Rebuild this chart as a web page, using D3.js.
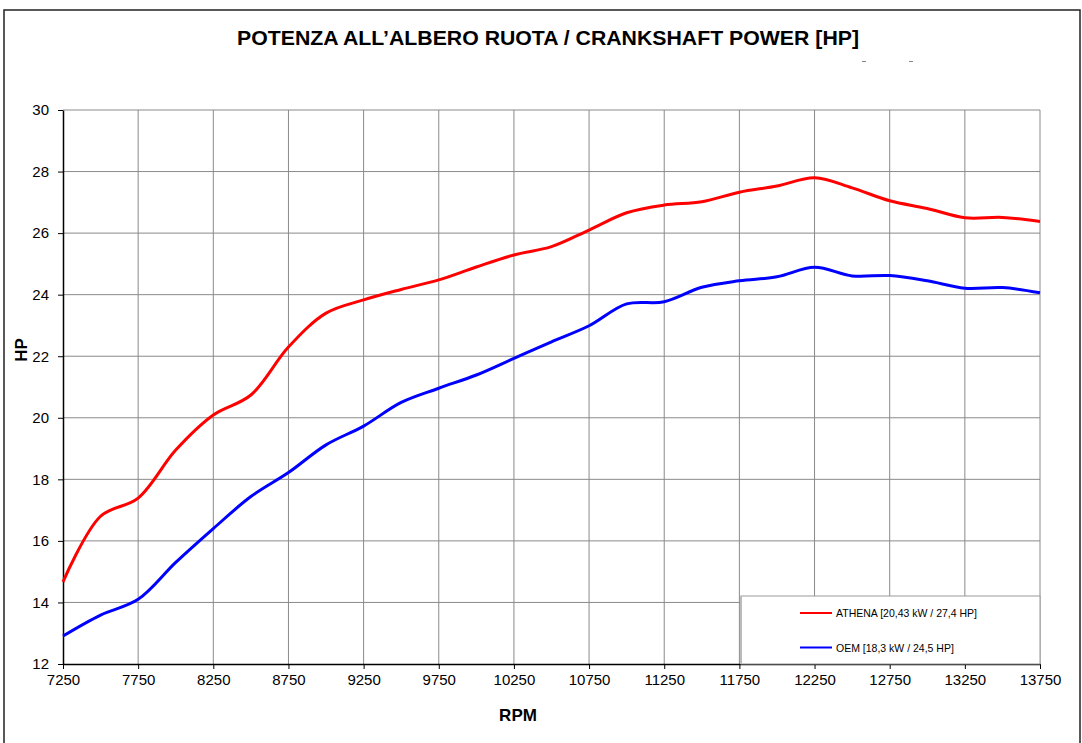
<!DOCTYPE html>
<html>
<head>
<meta charset="utf-8">
<script src="https://cdn.jsdelivr.net/npm/d3@7"></script>
<style>
  body { margin: 0; background: #fff; }
  text { font-family: "Liberation Sans", Arial, sans-serif; }
</style>
</head>
<body>
<div id="chart"></div>
<script>
// data (every 250 rpm)
var rpm = [7250, 7500, 7750, 8000, 8250, 8500, 8750, 9000, 9250, 9500, 9750, 10000, 10250, 10500,
           10750, 11000, 11250, 11500, 11750, 12000, 12250, 12500, 12750, 13000, 13250, 13500, 13750];
var athena = [14.67, 16.8, 17.39, 18.95, 20.09, 20.74, 22.3, 23.4, 23.83, 24.17, 24.48, 24.9, 25.29, 25.56,
              26.1, 26.66, 26.91, 27.02, 27.33, 27.53, 27.8, 27.47, 27.05, 26.8, 26.5, 26.51, 26.38];
var oem = [12.91, 13.59, 14.1, 15.3, 16.4, 17.44, 18.22, 19.12, 19.73, 20.5, 20.96, 21.39, 21.93, 22.47,
           22.99, 23.7, 23.77, 24.24, 24.45, 24.58, 24.89, 24.61, 24.62, 24.45, 24.21, 24.23, 24.06];
var xTicks = [7250, 7750, 8250, 8750, 9250, 9750, 10250, 10750, 11250, 11750, 12250, 12750, 13250, 13750];
var yTicks = [12, 14, 16, 18, 20, 22, 24, 26, 28, 30];
var seriesNames = ["ATHENA [20,43 kW / 27,4 HP]", "OEM [18,3 kW / 24,5 HP]"];
var seriesColors = ["#ff0000", "#0000ff"];

var width = 1082, height = 743;
var margin = { left: 63, right: 42, top: 110, bottom: 79 };

var svg = d3.select("#chart").append("svg")
    .attr("width", width)
    .attr("height", height);

// outer frame
svg.append("rect")
    .attr("x", 4).attr("y", 10)
    .attr("width", 1076).attr("height", 760)
    .attr("fill", "none")
    .attr("stroke", "#222")
    .attr("stroke-width", 1.5);

var x = d3.scaleLinear()
    .domain([7250, 13750])
    .range([margin.left, width - margin.right]);

var y = d3.scaleLinear()
    .domain([12, 30])
    .range([height - margin.bottom, margin.top]);

// grid
svg.append("g").selectAll("line.vg")
    .data(xTicks.slice(1))
    .enter().append("line")
    .attr("x1", function (d) { return x(d); })
    .attr("x2", function (d) { return x(d); })
    .attr("y1", y(12)).attr("y2", y(30))
    .attr("stroke", "#8a8a8a").attr("stroke-width", 1);

svg.append("g").selectAll("line.hg")
    .data(yTicks.slice(1))
    .enter().append("line")
    .attr("x1", x(7250)).attr("x2", x(13750))
    .attr("y1", function (d) { return y(d); })
    .attr("y2", function (d) { return y(d); })
    .attr("stroke", "#8a8a8a").attr("stroke-width", 1);

// axes
var xAxis = d3.axisBottom(x).tickValues(xTicks).tickSize(5).tickSizeOuter(0).tickFormat(d3.format("d"));
var yAxis = d3.axisLeft(y).tickValues(yTicks).tickSize(5).tickSizeOuter(0);

var gx = svg.append("g")
    .attr("transform", "translate(0," + y(12) + ")")
    .call(xAxis);
var gy = svg.append("g")
    .attr("transform", "translate(" + x(7250) + ",0)")
    .call(yAxis);

[gx, gy].forEach(function (g) {
    g.select(".domain").attr("stroke", "#000").attr("stroke-width", 1.5);
    g.selectAll(".tick line").attr("stroke", "#000");
    g.selectAll(".tick text")
        .attr("fill", "#000")
        .style("font-size", "15px")
        .style("font-family", "'Liberation Sans', Arial, sans-serif");
});
gx.selectAll(".tick text").attr("dy", "1em").attr("y", 6);
gy.selectAll(".tick text").attr("x", -14);

// lines
var line = d3.line()
    .x(function (d) { return x(d[0]); })
    .y(function (d) { return y(d[1]); })
    .curve(d3.curveCatmullRom.alpha(0.5));

[athena, oem].forEach(function (vals, i) {
    svg.append("path")
        .datum(rpm.map(function (r, j) { return [r, vals[j]]; }))
        .attr("d", line)
        .attr("fill", "none")
        .attr("stroke", seriesColors[i])
        .attr("stroke-width", 3)
        .attr("stroke-linejoin", "round");
});

// legend
var legend = svg.append("g");
legend.append("rect")
    .attr("x", 741).attr("y", 596)
    .attr("width", x(13750) - 741).attr("height", y(12) - 596)
    .attr("fill", "#fff")
    .attr("stroke", "#999")
    .attr("stroke-width", 1);
legend.append("line")
    .attr("x1", 741).attr("x2", 741)
    .attr("y1", 596).attr("y2", y(12))
    .attr("stroke", "#bbb").attr("stroke-width", 2);

seriesNames.forEach(function (name, i) {
    var ly = 613 + i * 34.5;
    legend.append("line")
        .attr("x1", 800).attr("x2", 832)
        .attr("y1", ly).attr("y2", ly)
        .attr("stroke", seriesColors[i]).attr("stroke-width", 2);
    legend.append("text")
        .attr("x", 836).attr("y", ly + 4)
        .style("font-size", "10.5px")
        .attr("fill", "#000")
        .text(name);
});

// title & axis labels
svg.append("text")
    .attr("x", 548).attr("y", 45)
    .attr("text-anchor", "middle")
    .attr("textLength", 622)
    .attr("lengthAdjust", "spacingAndGlyphs")
    .style("font-size", "20px")
    .style("font-weight", "bold")
    .text("POTENZA ALL’ALBERO RUOTA / CRANKSHAFT POWER [HP]");

svg.append("text")
    .attr("transform", "translate(27,350) rotate(-90)")
    .attr("text-anchor", "middle")
    .style("font-size", "17px")
    .style("font-weight", "bold")
    .text("HP");

svg.append("text")
    .attr("x", 518).attr("y", 721)
    .attr("text-anchor", "middle")
    .style("font-size", "17px")
    .style("font-weight", "bold")
    .text("RPM");

// two small stray marks under the title
[862, 909].forEach(function (px) {
    svg.append("line")
        .attr("x1", px).attr("x2", px + 4)
        .attr("y1", 61.5).attr("y2", 61.5)
        .attr("stroke", "#888").attr("stroke-width", 1);
});
</script>
</body>
</html>
